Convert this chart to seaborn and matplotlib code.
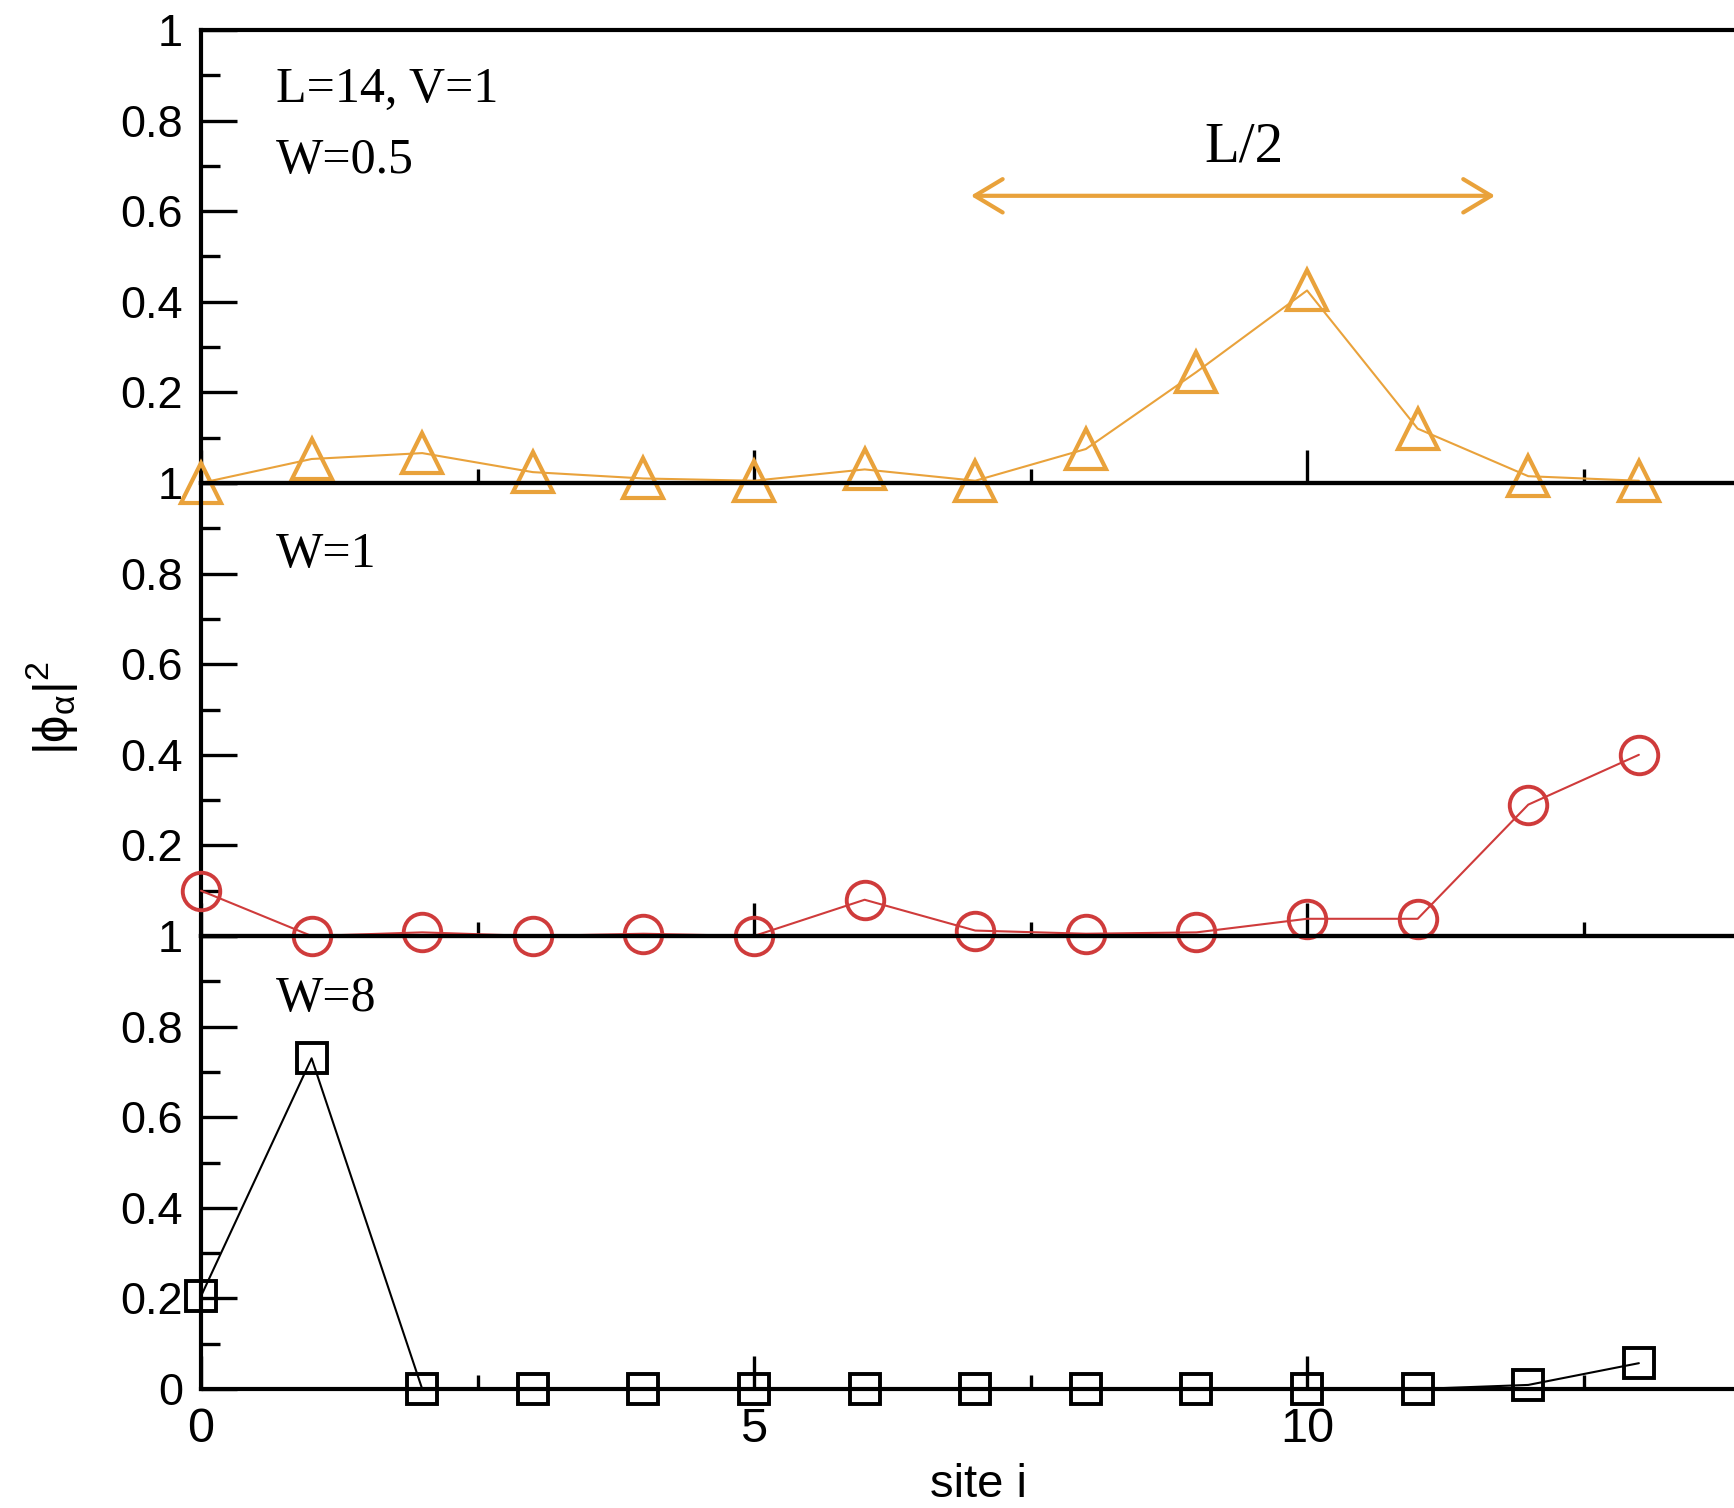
import matplotlib
matplotlib.use("Agg")
import matplotlib.pyplot as plt
import seaborn as sns
import pandas as pd
from matplotlib.ticker import FixedLocator, FixedFormatter, MultipleLocator

# ---------------- data ----------------
sites = list(range(14))
w05_vals = [0.0, 0.053, 0.066, 0.024, 0.01, 0.005, 0.03, 0.005, 0.075, 0.245, 0.425, 0.12, 0.015, 0.005]
w1_vals = [0.10, 0.0, 0.008, 0.0, 0.005, 0.0, 0.08, 0.012, 0.005, 0.008, 0.038, 0.038, 0.29, 0.40]
w8_vals = [0.205, 0.73, 0.0, 0.0, 0.0, 0.0, 0.0, 0.0, 0.0, 0.0, 0.0, 0.0, 0.009, 0.057]

panel_texts = [["L=14, V=1", "W=0.5"], ["W=1"], ["W=8"]]
ytick_vals = [0, 0.2, 0.4, 0.6, 0.8, 1.0]
ytick_labels_full = ["0", "0.2", "0.4", "0.6", "0.8", "1"]
ytick_labels_upper = ["", "0.2", "0.4", "0.6", "0.8", "1"]
xtick_vals = [0, 5, 10]
xtick_labels = ["0", "5", "10"]
x_label = "site i"
y_label = r"$\mathregular{|\phi_{\alpha}|^{2}}$"

ORANGE = "#E9A23B"
RED = "#CF3B3B"
BLACK = "#000000"

# ---------------- style ----------------
sns.set_style("ticks")
plt.rcParams["font.family"] = ["Liberation Sans", "DejaVu Sans"]
plt.rcParams["mathtext.fontset"] = "custom"
plt.rcParams["mathtext.rm"] = "Liberation Sans"
plt.rcParams["mathtext.it"] = "Liberation Sans"
plt.rcParams["mathtext.bf"] = "Liberation Sans:bold"

W, H = 1734, 1508
fig = plt.figure(figsize=(W / 100, H / 100), dpi=100)
fig.patch.set_facecolor("white")

left = 201 / W
width = 1 - left
ph = 453 / H
bottom0 = 1 - 1389 / H

series = [
    (w05_vals, ORANGE, "^", 29, 3.0),
    (w1_vals, RED, "o", 27, 2.8),
    (w8_vals, BLACK, "s", 21, 2.8),
]

axes = []
for k in range(3):
    b = bottom0 + (2 - k) * ph
    ax = fig.add_axes([left, b, width, ph])
    ax.set_facecolor("none")
    axes.append(ax)

text_y = [[0.841, 0.684], [0.815], [0.835]]

for k, ax in enumerate(axes):
    vals, col, mk, ms, mew = series[k]
    df = pd.DataFrame({"site": sites, "val": vals})
    sns.lineplot(data=df, x="site", y="val", ax=ax, color=col, linewidth=1.5,
                 marker=mk, markersize=ms, markerfacecolor="none",
                 markeredgecolor=col, markeredgewidth=mew, clip_on=False,
                 zorder=5)
    ax.set_xlim(0, 13.86)
    ax.set_ylim(0, 1)
    ax.set_xlabel("")
    ax.set_ylabel("")

    ax.yaxis.set_major_locator(FixedLocator(ytick_vals))
    if k == 2:
        ax.yaxis.set_major_formatter(FixedFormatter(ytick_labels_full))
    else:
        ax.yaxis.set_major_formatter(FixedFormatter(ytick_labels_upper))
    ax.yaxis.set_minor_locator(MultipleLocator(0.1))
    ax.xaxis.set_major_locator(FixedLocator(xtick_vals))
    ax.xaxis.set_major_formatter(FixedFormatter(xtick_labels))
    ax.xaxis.set_minor_locator(MultipleLocator(2.5))

    ax.tick_params(axis="both", which="both", direction="in", top=False,
                   right=False, color="black", width=2.4)
    ax.tick_params(axis="y", which="major", length=26, pad=13, labelsize=32.5,
                   labelcolor="black")
    ax.tick_params(axis="y", which="minor", length=14)
    ax.tick_params(axis="x", which="major", length=24, pad=13, labelsize=35,
                   labelcolor="black")
    ax.tick_params(axis="x", which="minor", length=10)
    if k < 2:
        ax.tick_params(axis="x", labelbottom=False)

    for s in ["left", "bottom", "top"]:
        ax.spines[s].set_color("black")
        ax.spines[s].set_linewidth(3.0)
    ax.spines["right"].set_visible(False)

    for t, yy in zip(panel_texts[k], text_y[k]):
        ax.text(0.68, yy, t, fontsize=36, family=["Liberation Serif", "DejaVu Serif"],
                ha="left", va="baseline", color="black")

# L/2 annotation with double arrow
ax0 = axes[0]
ax0.text(9.43, 0.709, "L/2", fontsize=41, family=["Liberation Serif", "DejaVu Serif"],
         ha="center", va="baseline", color="black")
ax0.annotate("", xy=(11.70, 0.634), xytext=(6.96, 0.634),
             arrowprops=dict(arrowstyle="<->,head_length=1.0,head_width=0.6",
                             color=ORANGE, lw=3.0, shrinkA=0, shrinkB=0,
                             mutation_scale=20))

# axis labels
fig.text(978 / W, 1 - 1497 / H, x_label, fontsize=34, ha="center", va="baseline",
         color="black")
fig.text(52 / W, 1 - 708 / H, y_label, fontsize=35, rotation=90, ha="center",
         va="center", color="black")

fig.savefig("out.png", dpi=100, facecolor="white")
